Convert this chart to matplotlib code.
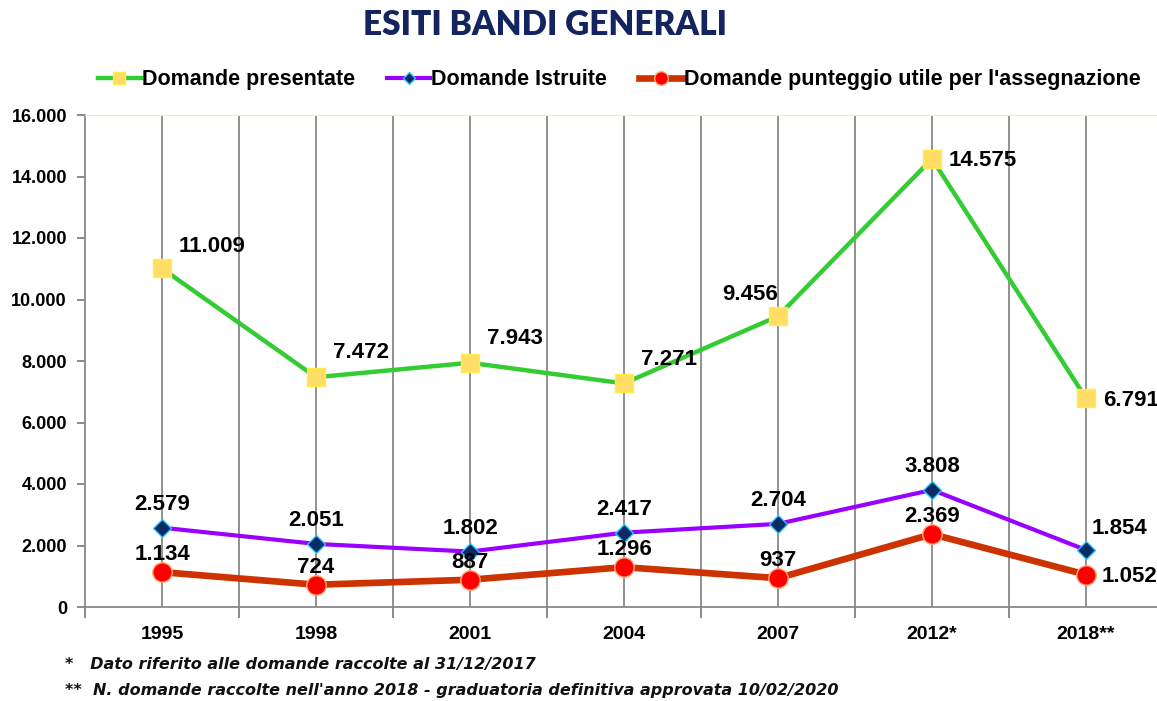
import numpy as np
import matplotlib.pyplot as plt
from matplotlib.ticker import FixedLocator, FuncFormatter

years = ['1995', '1998', '2001', '2004', '2007', '2012*', '2018**']
presentate = [11009, 7472, 7943, 7271, 9456, 14575, 6791]
istruite = [2579, 2051, 1802, 2417, 2704, 3808, 1854]
utili = [1134, 724, 887, 1296, 937, 2369, 1052]

fig = plt.figure(figsize=(11.57, 7.01), dpi=100)
ax = fig.add_axes([85 / 1157, 94 / 701, 1078 / 1157, 492 / 701])

x = np.arange(len(years))
ax.plot(x, presentate, '-', color='#33cc33', lw=3.2, marker='s', ms=13,
        mfc='#ffdd66', mec='#ffee44', mew=1, label='Domande presentate', zorder=4)
ax.plot(x, istruite, '-', color='#9900ff', lw=3, marker='D', ms=9,
        mfc='#0a2a66', mec='#22ccff', mew=1, label='Domande Istruite', zorder=4)
ax.plot(x, utili, '-', color='#cc3300', lw=4.8, marker='o', ms=14,
        mfc='#ff0000', mec='#ffaa77', mew=1,
        label="Domande punteggio utile per l'assegnazione", zorder=4)

def fmt(v):
    return f'{v:,}'.replace(',', '.')

lab = dict(fontsize=16, fontweight='bold', family='Liberation Sans', zorder=5)
# green labels: offsets in points
g_off = [(12, 8), (12, 10), (12, 10), (12, 10), (-20, 8), (12, -9), (12, -9)]
for i, v in enumerate(presentate):
    ha = 'center' if i == 4 else 'left'
    ax.annotate(fmt(v), (x[i], v), xytext=g_off[i], textcoords='offset points',
                ha=ha, va='bottom', **lab)
for i, v in enumerate(istruite):
    if i == 6:
        ax.annotate(fmt(v), (x[i], v), xytext=(4, 8), textcoords='offset points',
                    ha='left', va='bottom', **lab)
    else:
        ax.annotate(fmt(v), (x[i], v), xytext=(0, 9), textcoords='offset points',
                    ha='center', va='bottom', **lab)
for i, v in enumerate(utili):
    if i == 6:
        ax.annotate(fmt(v), (x[i], v), xytext=(11, -9), textcoords='offset points',
                    ha='left', va='bottom', **lab)
    else:
        ax.annotate(fmt(v), (x[i], v), xytext=(0, 5), textcoords='offset points',
                    ha='center', va='bottom', **lab)

ax.set_xlim(-0.5, 6.5)
ax.set_ylim(0, 16000)
ax.set_yticks(np.arange(0, 16001, 2000))
ax.yaxis.set_major_formatter(FuncFormatter(lambda v, p: fmt(int(v))))
ax.xaxis.set_major_locator(FixedLocator(np.arange(-0.5, 7, 1)))
ax.xaxis.set_minor_locator(FixedLocator(x))
ax.xaxis.set_major_formatter(FuncFormatter(lambda v, p: ''))
ax.set_xticklabels(years, minor=True)
ax.tick_params(axis='x', which='major', length=8, color='#777777', width=1.2)
ax.tick_params(axis='x', which='minor', length=0, pad=14)
ax.tick_params(axis='y', length=6, color='#777777', width=1.2, pad=7)
for t in ax.get_xticklabels(minor=True) + ax.get_yticklabels():
    t.set_fontweight('bold')
    t.set_family('Liberation Sans')
for t in ax.get_xticklabels(minor=True):
    t.set_fontsize(14)
for t in ax.get_yticklabels():
    t.set_fontsize(13)

for xv in np.arange(0, 7, 0.5):
    ax.axvline(xv, color='#888888', lw=1.3, zorder=1)
for side in ['left', 'bottom']:
    ax.spines[side].set_color('#888888')
    ax.spines[side].set_linewidth(1.3)
ax.spines['top'].set_color('#f2f0a0')
ax.spines['right'].set_visible(False)

fig.legend(loc='center', bbox_to_anchor=(0.535, 0.886), ncol=3, frameon=False,
           prop=dict(family='Liberation Sans', weight='bold', size=15.5),
           handlelength=2.0, handletextpad=0.05, columnspacing=1.5,
           markerscale=0.7)

fig.text(0.471, 0.965, 'ESITI BANDI GENERALI', ha='center', va='center',
         fontsize=24, fontweight='heavy', family='Lato', color='#13245e')

foot = dict(fontsize=11.5, fontstyle='italic', fontweight='bold',
            family='DejaVu Sans', color='#111111')
fig.text(65 / 1157, 1 - 665 / 701, '*   Dato riferito alle domande raccolte al 31/12/2017',
         va='center', **foot)
fig.text(65 / 1157, 1 - 690 / 701,
         "**  N. domande raccolte nell'anno 2018 - graduatoria definitiva approvata 10/02/2020",
         va='center', **foot)

fig.savefig('out.png', dpi=100)
